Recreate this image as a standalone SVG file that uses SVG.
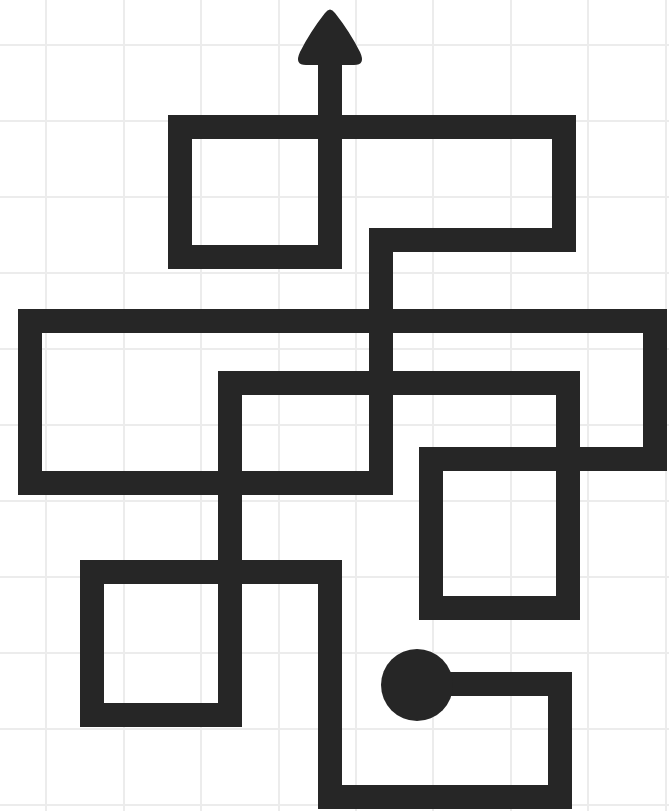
<svg xmlns="http://www.w3.org/2000/svg" width="669" height="811" viewBox="0 0 669 811">
<style>
.grid line{stroke:#ececec;stroke-width:2}
.maze{fill:none;stroke:#262626;stroke-width:24;stroke-linejoin:miter;stroke-linecap:butt}
.ink{fill:#262626}
</style>
<rect width="669" height="811" fill="#ffffff"/>
<g class="grid">
<line x1="46" y1="0" x2="46" y2="811"/>
<line x1="124" y1="0" x2="124" y2="811"/>
<line x1="201" y1="0" x2="201" y2="811"/>
<line x1="279" y1="0" x2="279" y2="811"/>
<line x1="356" y1="0" x2="356" y2="811"/>
<line x1="433" y1="0" x2="433" y2="811"/>
<line x1="511" y1="0" x2="511" y2="811"/>
<line x1="588" y1="0" x2="588" y2="811"/>
<line x1="666" y1="0" x2="666" y2="811"/>
<line x1="0" y1="45" x2="669" y2="45"/>
<line x1="0" y1="121" x2="669" y2="121"/>
<line x1="0" y1="197" x2="669" y2="197"/>
<line x1="0" y1="273" x2="669" y2="273"/>
<line x1="0" y1="349" x2="669" y2="349"/>
<line x1="0" y1="425" x2="669" y2="425"/>
<line x1="0" y1="501" x2="669" y2="501"/>
<line x1="0" y1="577" x2="669" y2="577"/>
<line x1="0" y1="653" x2="669" y2="653"/>
<line x1="0" y1="729" x2="669" y2="729"/>
<line x1="0" y1="805" x2="669" y2="805"/>
</g>
<g id="connectors">
<path class="maze" d="M417 684 H560 V797 H330 V572 H92 V715 H230 V383 H568 V608 H431 V459 H655 V321 H30 V483 H381 V240 H564 V127 H180 V257 H330 V60"/>
</g>
<g id="start">
<circle class="ink" cx="417" cy="685" r="36"/>
</g>
<g id="end">
<path class="ink" d="M325 13 Q330 6 335 13 Q350 32 360 52 Q366 65 354 65 L306 65 Q294 65 300 52 Q310 32 325 13 Z"/>
</g>
</svg>
